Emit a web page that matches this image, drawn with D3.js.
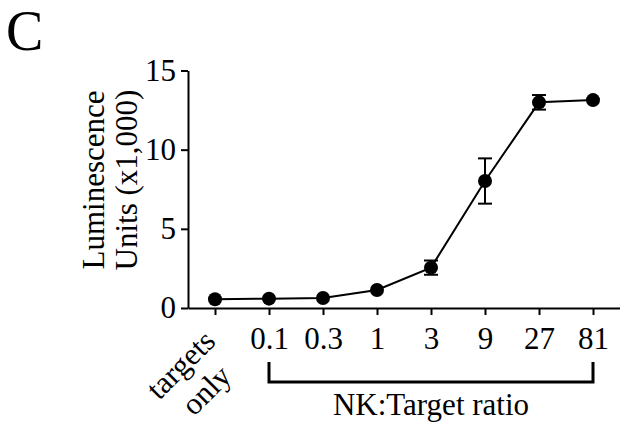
<!DOCTYPE html>
<html>
<head>
<meta charset="utf-8">
<script src="https://cdn.jsdelivr.net/npm/d3@7"></script>
<style>
  body { margin: 0; background: #fff; }
  svg { display: block; font-family: "Liberation Serif", "Times New Roman", serif; }
  .axis path, .axis line { stroke: #000; stroke-width: 2; }
  .axis text { font-size: 31px; fill: #000; font-family: "Liberation Serif", serif; }
</style>
</head>
<body>
<script>
// data
const categories = ["targets only", "0.1", "0.3", "1", "3", "9", "27", "81"];
const means = [0.55, 0.59, 0.63, 1.14, 2.55, 8.02, 12.99, 13.13];   // x1,000 units
const errs  = [0, 0, 0, 0, 0.45, 1.43, 0.46, 0];
const yTicks = [0, 5, 10, 15];

const W = 620, H = 425;
const svg = d3.select("body").append("svg").attr("width", W).attr("height", H);

const x = d3.scalePoint().domain(categories).range([188, 620]).padding(0.5);
const y = d3.scaleLinear().domain([0, 15]).range([308, 70.5]);

const data = categories.map((c, i) => ({ c: c, m: means[i], e: errs[i] }));

// panel letter
svg.append("text")
    .attr("x", 6).attr("y", 50)
    .attr("font-size", 56)
    .text("C");

// y axis
svg.append("g")
    .attr("class", "axis")
    .attr("transform", "translate(188,0)")
    .call(d3.axisLeft(y).tickValues(yTicks).tickSize(7).tickSizeOuter(0).tickPadding(5));

// x axis
const xAxis = svg.append("g")
    .attr("class", "axis")
    .attr("transform", "translate(0,308)")
    .call(d3.axisBottom(x).tickSize(7).tickSizeOuter(0).tickPadding(12));
xAxis.selectAll(".tick text").filter(d => d === "targets only").remove();

// "targets only" label, rotated
const tl = svg.append("g")
    .attr("transform", `translate(${x("targets only") - 27},372) rotate(-45)`)
    .attr("font-size", 31)
    .attr("text-anchor", "middle");
tl.append("text").attr("x", 0).attr("y", 0).text("targets");
tl.append("text").attr("x", 0).attr("y", 36).text("only");

// y axis title
const yl = svg.append("g")
    .attr("transform", "translate(0,180) rotate(-90)")
    .attr("font-size", 31)
    .attr("text-anchor", "middle");
yl.append("text").attr("x", 0).attr("y", 104).text("Luminescence");
yl.append("text").attr("x", 0).attr("y", 137).text("Units (x1,000)");

// bracket for NK:Target ratio
const bx0 = x("0.1"), bx1 = x("81");
svg.append("path")
    .attr("d", `M${bx0},362 V382 H${bx1} V362`)
    .attr("fill", "none")
    .attr("stroke", "#000")
    .attr("stroke-width", 3);
svg.append("text")
    .attr("x", (bx0 + bx1) / 2).attr("y", 415)
    .attr("font-size", 31)
    .attr("text-anchor", "middle")
    .text("NK:Target ratio");

// line
svg.append("path")
    .datum(data)
    .attr("fill", "none")
    .attr("stroke", "#000")
    .attr("stroke-width", 2)
    .attr("d", d3.line().x(d => x(d.c)).y(d => y(d.m)));

// error bars
const eb = svg.append("g").attr("stroke", "#000").attr("stroke-width", 2);
data.filter(d => d.e > 0).forEach(d => {
    const cx = x(d.c);
    eb.append("line").attr("x1", cx).attr("x2", cx).attr("y1", y(d.m + d.e)).attr("y2", y(d.m - d.e));
    eb.append("line").attr("x1", cx - 7).attr("x2", cx + 7).attr("y1", y(d.m + d.e)).attr("y2", y(d.m + d.e));
    eb.append("line").attr("x1", cx - 7).attr("x2", cx + 7).attr("y1", y(d.m - d.e)).attr("y2", y(d.m - d.e));
});

// markers
svg.append("g")
    .selectAll("circle")
    .data(data)
    .enter()
    .append("circle")
    .attr("cx", d => x(d.c))
    .attr("cy", d => y(d.m))
    .attr("r", 7)
    .attr("fill", "#000");
</script>
</body>
</html>
